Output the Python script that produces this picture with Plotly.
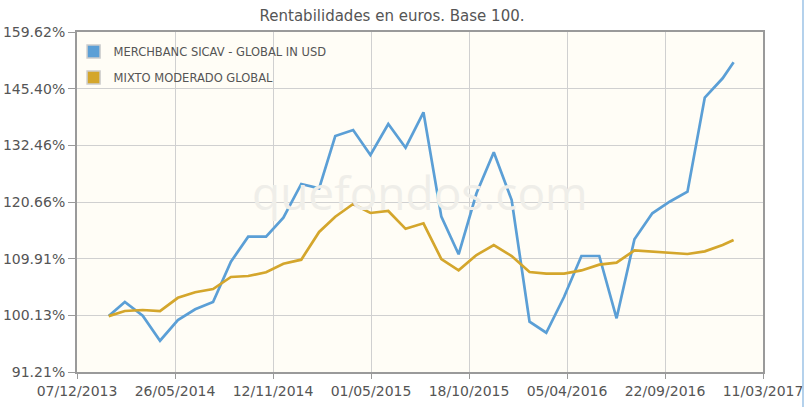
import plotly.graph_objects as go
import math

# ---- data ----
dates = [
    "2014-01-31", "2014-02-28", "2014-03-31", "2014-04-30", "2014-05-31", "2014-06-30",
    "2014-07-31", "2014-08-31", "2014-09-30", "2014-10-31", "2014-11-30", "2014-12-31",
    "2015-01-31", "2015-02-28", "2015-03-31", "2015-04-30", "2015-05-31", "2015-06-30",
    "2015-07-31", "2015-08-31", "2015-09-30", "2015-10-31", "2015-11-30", "2015-12-31",
    "2016-01-31", "2016-02-29", "2016-03-31", "2016-04-30", "2016-05-31", "2016-06-30",
    "2016-07-31", "2016-08-31", "2016-09-30", "2016-10-31", "2016-11-30", "2016-12-31",
    "2017-01-19",
]
merchbanc = [100.0, 102.35, 100.07, 96.03, 99.36, 101.13, 102.35, 109.37, 113.96, 113.96,
             117.58, 124.29, 123.41, 134.50, 135.84, 130.36, 137.19, 131.94, 139.86, 117.78,
             110.71, 122.40, 130.94, 121.06, 99.08, 97.30, 103.24, 110.40, 110.40, 99.64,
             113.48, 118.44, 120.72, 122.72, 143.30, 147.91, 151.85]
mixto = [100.0, 100.84, 101.01, 100.84, 103.06, 104.00, 104.56, 106.65, 106.82, 107.49,
         108.99, 109.73, 114.85, 117.78, 120.26, 118.50, 118.89, 115.45, 116.50, 109.85,
         107.83, 110.58, 112.41, 110.40, 107.53, 107.23, 107.23, 107.81, 108.83, 109.19,
         111.44, 111.25, 111.00, 110.76, 111.25, 112.40, 113.34]
series_names = ["MERCHBANC SICAV - GLOBAL IN USD", "MIXTO MODERADO GLOBAL"]
x_tick_vals = ["2013-12-07", "2014-05-26", "2014-11-12", "2015-05-01",
               "2015-10-18", "2016-04-05", "2016-09-22", "2017-03-11"]
x_tick_text = ["07/12/2013", "26/05/2014", "12/11/2014", "01/05/2015",
               "18/10/2015", "05/04/2016", "22/09/2016", "11/03/2017"]
y_tick_vals = [91.21, 100.13, 109.91, 120.66, 132.46, 145.40, 159.62]
y_tick_text = ["91.21%", "100.13%", "109.91%", "120.66%", "132.46%", "145.40%", "159.62%"]

# ---- style ----
BLUE = "#5b9fd6"
GOLD = "#d4a62c"
TXT = "#555555"
FONT = "DejaVu Sans"

fig = go.Figure()
for vals, color, name in [(merchbanc, BLUE, series_names[0]),
                          (mixto, GOLD, series_names[1])]:
    fig.add_trace(go.Scatter(x=dates, y=vals, mode="lines", name=name,
                             line=dict(color=color, width=2.7), showlegend=False,
                             hoverinfo="skip"))
for color, name, grp in [(BLUE, series_names[0], "a"), (GOLD, series_names[1], "b")]:
    fig.add_trace(go.Scatter(x=[None], y=[None], mode="markers", name=name,
                             legendgroup=grp,
                             marker=dict(symbol="square", size=13, color=color,
                                         line=dict(color="#cccccc", width=1.5))))

fig.add_annotation(text="quefondos.com", x=0.5, y=0.53, xref="paper", yref="paper",
                   showarrow=False, font=dict(family="Open Sans", size=46, color="#efeee9"),
                   xanchor="center", yanchor="middle")

fig.update_layout(
    width=805, height=407,
    margin=dict(l=77, r=42, t=32, b=35, autoexpand=False),
    paper_bgcolor="white",
    plot_bgcolor="#fffdf6",
    title=dict(text="Rentabilidades en euros. Base 100.", x=0.487, xanchor="center",
               y=0.962, yanchor="middle", yref="container",
               font=dict(family=FONT, size=15, color=TXT)),
    legend=dict(x=-0.005, y=0.985, xanchor="left", yanchor="top",
                bgcolor="rgba(0,0,0,0)", traceorder="grouped", tracegroupgap=7,
                font=dict(family=FONT, size=11.5, color=TXT)),
    font=dict(family=FONT, color=TXT),
)
fig.update_xaxes(
    type="date", range=[x_tick_vals[0], x_tick_vals[-1]], automargin=False,
    tickmode="array", tickvals=x_tick_vals, ticktext=x_tick_text,
    tickfont=dict(family=FONT, size=14, color=TXT),
    showgrid=True, gridcolor="#d0d0d0", gridwidth=1,
    showline=True, linecolor="#9a9a9a", linewidth=2, mirror=True,
    ticks="outside", ticklen=5, tickcolor="#9a9a9a", zeroline=False,
)
fig.update_yaxes(
    type="log", range=[math.log10(y_tick_vals[0]), math.log10(y_tick_vals[-1])],
    automargin=False,
    tickmode="array", tickvals=y_tick_vals, ticktext=y_tick_text,
    tickfont=dict(family=FONT, size=14, color=TXT),
    showgrid=True, gridcolor="#d0d0d0", gridwidth=1,
    showline=True, linecolor="#9a9a9a", linewidth=2, mirror=True,
    ticks="outside", ticklen=7, tickcolor="#9a9a9a", zeroline=False,
)
fig.add_shape(type="line", xref="paper", yref="paper", x0=1.0583, x1=1.0583,
              y0=-0.11, y1=1.1, line=dict(color="#9cc3e6", width=1.5))

fig.write_html("out.html")
